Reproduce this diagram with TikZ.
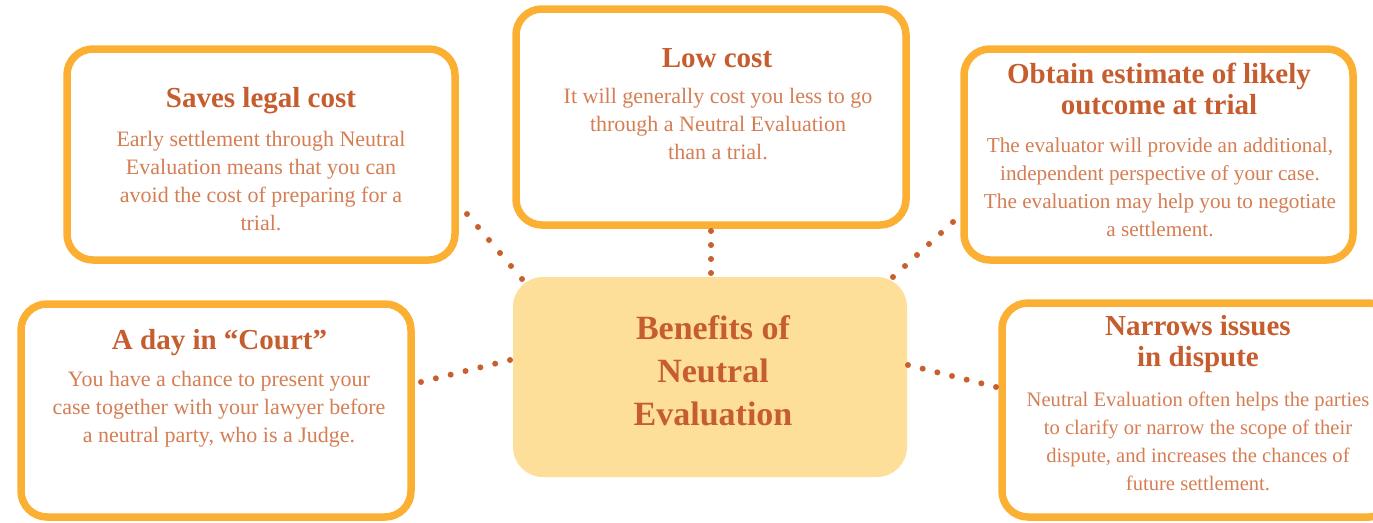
\documentclass[tikz,border=0pt]{standalone}
\usepackage{fontspec}
\setmainfont{Liberation Serif}
\definecolor{boxorange}{HTML}{FBB034}
\definecolor{centerfill}{HTML}{FDDF9A}
\definecolor{titlecol}{HTML}{C65D2E}
\definecolor{bodycol}{HTML}{D57E54}
\definecolor{dotcol}{HTML}{C8602D}
\tikzset{
  benefitbox/.style={draw=boxorange, line width=7.5pt, rounded corners=26pt, fill=white},
  titletext/.style={text=titlecol, font=\fontsize{29}{31}\selectfont\bfseries, align=center, inner sep=0pt},
  bodytext/.style={text=bodycol, font=\fontsize{22}{28}\selectfont, align=center, inner sep=0pt},
  bodysmall/.style={bodytext, font=\fontsize{21.2}{28}\selectfont},
  bodysmaller/.style={bodytext, font=\fontsize{20.6}{28}\selectfont},
  centertext/.style={text=titlecol, font=\fontsize{34}{43}\selectfont\bfseries, align=center, inner sep=0pt},
}
\newcommand{\dotline}[3]{%
  \foreach \k in {0,...,#3}{\fill[dotcol] ($(#1)!{\k/#3}!(#2)$) circle (3pt);}}
\usetikzlibrary{calc}
\begin{document}
\begin{tikzpicture}[x=1pt,y=-1pt]
\useasboundingbox (0,0) rectangle (1373,522);
\clip (0,0) rectangle (1373,522);
% boxes
\draw[benefitbox] (67,49) rectangle (455,260);
\draw[benefitbox] (516,9) rectangle (906,225);
\draw[benefitbox] (964,49) rectangle (1353,260);
\draw[benefitbox] (21,304) rectangle (411,517);
\draw[benefitbox] (1002,303) rectangle (1395,517);
\fill[centerfill, rounded corners=30pt] (513,277) rectangle (907,477);
% named nodes
\node[centertext] (center) at (713,371) {Benefits of\\Neutral\\Evaluation};
\node[titletext] (savesT) at (261,101) {Saves legal cost};
\node[bodytext] (savesB) at (261,181) {Early settlement through Neutral\\Evaluation means that you can\\avoid the cost of preparing for a\\trial.};
\node[titletext] (lowT) at (717,58) {Low cost};
\node[bodytext] (lowB) at (718,124.5) {It will generally cost you less to go\\through a Neutral Evaluation\\than a trial.};
\node[titletext] (obtT) at (1159,88.5) {Obtain estimate of likely\\outcome at trial};
\node[bodysmall] (obtB) at (1160,187.5) {The evaluator will provide an additional,\\independent perspective of your case.\\The evaluation may help you to negotiate\\a settlement.};
\node[titletext] (courtT) at (219.5,343) {A day in ``Court''};
\node[bodytext] (courtB) at (219,409) {You have a chance to present your\\case together with your lawyer before\\a neutral party, who is a Judge.};
\node[titletext] (narT) at (1198,344.5) {Narrows issues\\in dispute};
\node[bodysmaller] (narB) at (1198,441) {Neutral Evaluation often helps the parties\\to clarify or narrow the scope of their\\dispute, and increases the chances of\\future settlement.};
% connector end points
\coordinate (s1) at (467,214); \coordinate (s2) at (522,279);
\coordinate (l1) at (711,231); \coordinate (l2) at (711,273);
\coordinate (o1) at (953,222); \coordinate (o2) at (893,277);
\coordinate (c1) at (421,382); \coordinate (c2) at (510,360);
\coordinate (n1) at (908,365); \coordinate (n2) at (996,387);
\dotline{s1}{s2}{5}
\dotline{l1}{l2}{3}
\dotline{o1}{o2}{5}
\dotline{c1}{c2}{6}
\dotline{n1}{n2}{6}
\end{tikzpicture}
\end{document}
